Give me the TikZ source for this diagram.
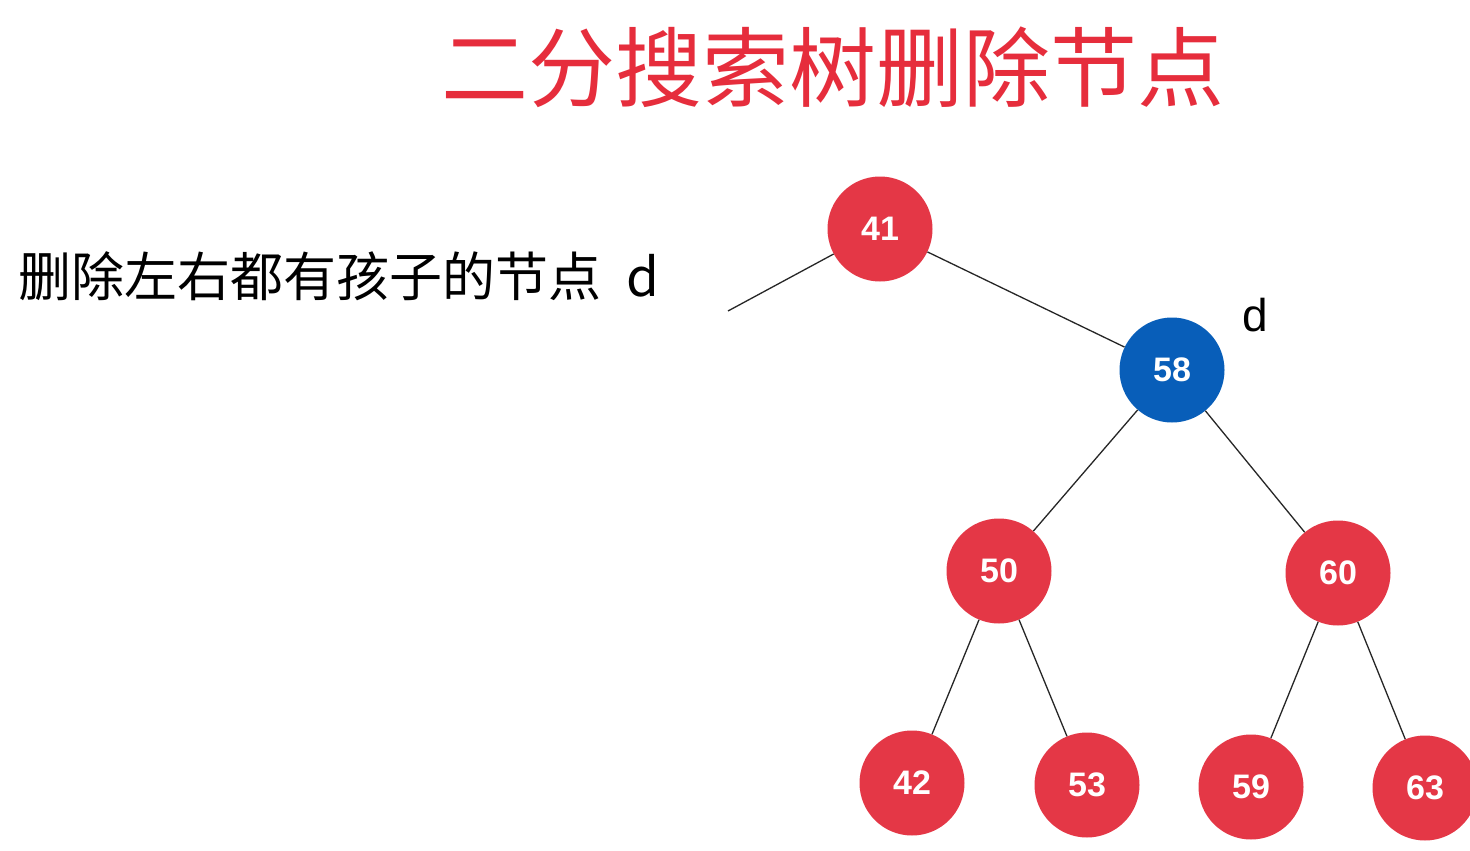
\documentclass[tikz,border=0pt]{standalone}
\usepackage{fontspec}
\setmainfont{Liberation Sans}
\newfontfamily\cjk{Noto Sans CJK SC}
\usetikzlibrary{positioning}

\definecolor{nodered}{RGB}{228,55,70}
\definecolor{titlered}{RGB}{230,45,60}
\definecolor{nodeblue}{RGB}{8,94,185}

\begin{document}
\begin{tikzpicture}[
  x=1pt, y=-1pt,
  treenode/.style={circle, fill=nodered, minimum size=105pt, inner sep=0pt,
    text=white, font=\fontsize{34}{34}\selectfont\bfseries},
  delnode/.style={treenode, fill=nodeblue},
  edge/.style={line width=1.3pt, black!85},
  node distance=10pt, on grid,
]
  \clip (0,0) rectangle (1470,851);
  \fill[white] (0,0) rectangle (1470,851);
  % title and caption
  \node[anchor=base, inner sep=0pt, text=titlered,
    font=\cjk\fontsize{87}{87}\selectfont] (title) at (833,100) {二分搜索树删除节点};
  \node[anchor=base west, inner sep=0pt,
    font=\cjk\fontsize{53}{53}\selectfont] (caption) at (18,296) {删除左右都有孩子的节点\hspace{25pt}d};
  % tree
  \node[treenode] (n41) at (880,229) {41};
  \node[delnode, below right=141pt and 292pt of n41] (n58) {58};
  \node[treenode, below left=201pt and 173pt of n58] (n50) {50};
  \node[treenode, below right=203pt and 166pt of n58] (n60) {60};
  \node[treenode, below left=212pt and 87pt of n50] (n42) {42};
  \node[treenode, below right=214pt and 88pt of n50] (n53) {53};
  \node[treenode, below left=214pt and 87pt of n60] (n59) {59};
  \node[treenode, below right=215pt and 87pt of n60] (n63) {63};
  \node[inner sep=0pt, font=\fontsize{46}{46}\selectfont,
    above right=55pt and 83pt of n58] (dlabel) {d};
  \coordinate (leftend) at (728,311);
  \draw[edge] (n41) -- (leftend);
  \draw[edge] (n41) -- (n58);
  \draw[edge] (n58) -- (n50);
  \draw[edge] (n58) -- (n60);
  \draw[edge] (n50) -- (n42);
  \draw[edge] (n50) -- (n53);
  \draw[edge] (n60) -- (n59);
  \draw[edge] (n60) -- (n63);
\end{tikzpicture}
\end{document}
